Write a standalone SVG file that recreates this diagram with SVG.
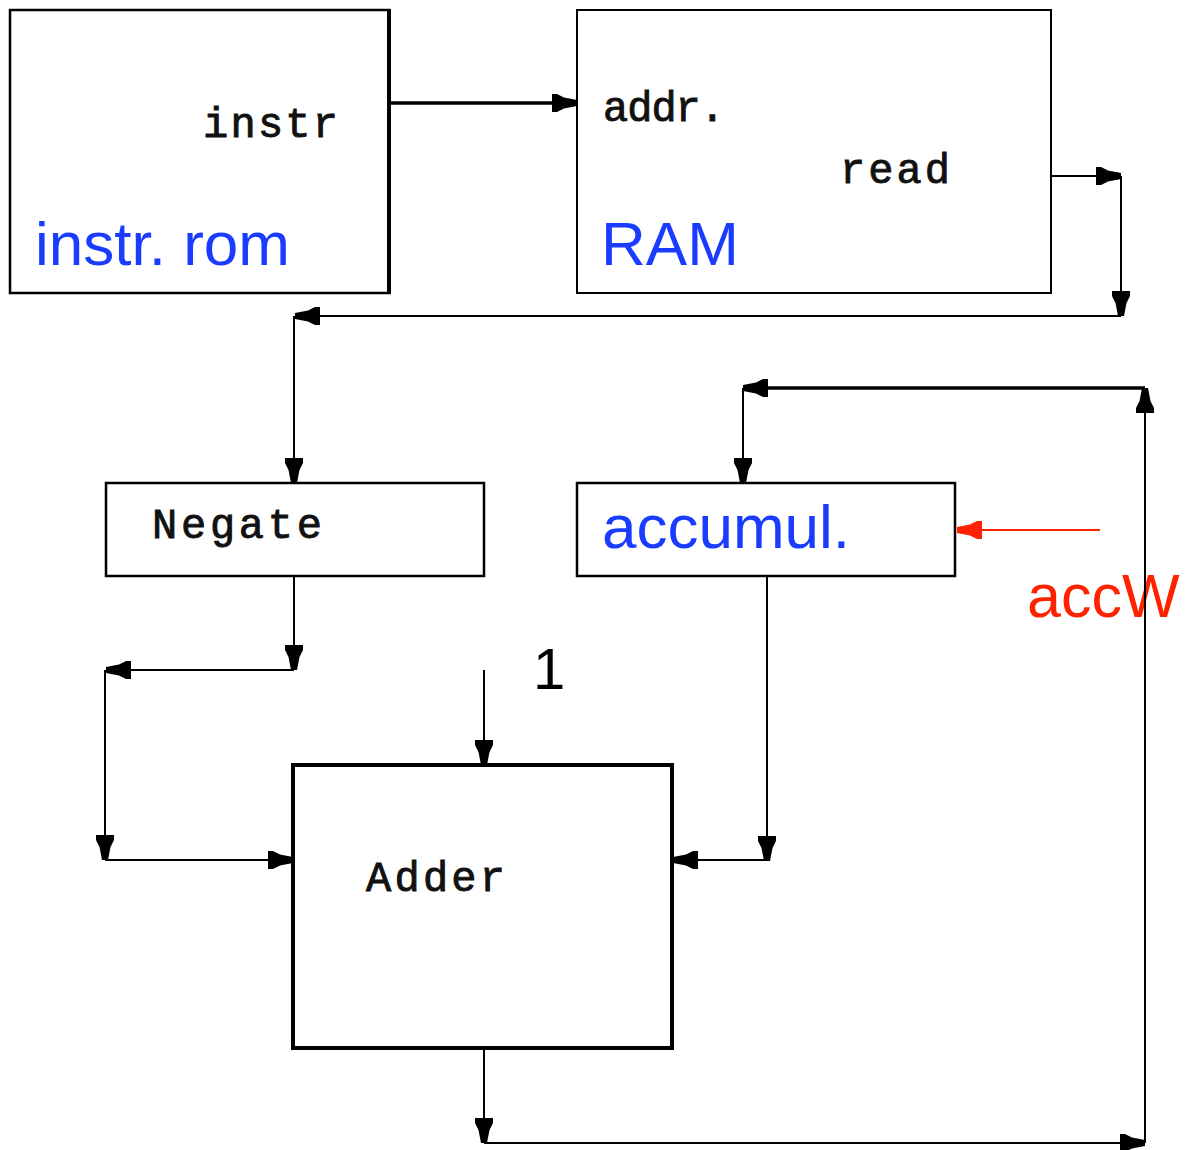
<svg xmlns="http://www.w3.org/2000/svg" width="1192" height="1150" viewBox="0 0 1192 1150">
<style>
.box{fill:#fff;stroke:#000;stroke-width:2.5}
.mono{font-family:"Liberation Mono","Courier New",monospace;font-weight:normal;font-size:42px;fill:#111;stroke:#111;stroke-width:0.9}
.sans{font-family:"Liberation Sans",Arial,sans-serif;font-size:61px}
.blue{fill:#1a3cff}
.w{stroke:#000;stroke-width:2;fill:none;marker-end:url(#ah)}
</style>
<defs>
<marker id="ah" markerUnits="userSpaceOnUse" markerWidth="32" markerHeight="22" viewBox="-28 -11 30 22" refX="0" refY="0" orient="auto">
<path d="M-25,-9 L-20,-9 L-13,-5.5 L0,-3 L0,3 L-13,5.5 L-20,9 L-25,9 Z" fill="#000"/>
</marker>
<marker id="ahr" markerUnits="userSpaceOnUse" markerWidth="32" markerHeight="22" viewBox="-28 -11 30 22" refX="0" refY="0" orient="auto">
<path d="M-25,-9 L-20,-9 L-13,-5.5 L0,-3 L0,3 L-13,5.5 L-20,9 L-25,9 Z" fill="#ff2200"/>
</marker>
</defs>
<g id="instr-rom">
<rect class="box" x="10" y="10" width="379" height="283"/>
<line x1="389" y1="9" x2="389" y2="294" stroke="#000" stroke-width="4"/>
<text class="mono" x="203" y="137" textLength="135">instr</text>
<text class="sans blue" x="35" y="265" style="font-size:62px">instr. rom</text>
</g>
<g id="ram">
<rect class="box" x="577" y="10" width="474" height="283" style="stroke-width:2"/>
<text class="mono" x="603" y="121" textLength="122">addr.</text>
<text class="mono" x="840" y="183" textLength="110">read</text>
<text class="sans blue" x="601" y="265" style="font-size:62px">RAM</text>
</g>
<g id="negate">
<rect class="box" x="106" y="483" width="378" height="93"/>
<text class="mono" x="152" y="538" textLength="170">Negate</text>
</g>
<g id="accumul">
<rect class="box" x="577" y="483" width="378" height="93"/>
<text class="sans blue" x="602" y="548" style="font-size:62px">accumul.</text>
</g>
<g id="adder">
<rect class="box" x="293" y="765" width="379" height="283" style="stroke-width:4"/>
<text class="mono" x="366" y="891" textLength="139">Adder</text>
</g>
<g id="labels">
<text class="sans" x="533" y="689" style="font-size:58px" fill="#000">1</text>
<text class="sans" x="1027" y="617" fill="#ff2200">accW</text>
</g>
<g id="connectors">
<line class="w" x1="389" y1="103" x2="577" y2="103" style="stroke-width:3.5"/>
<line class="w" x1="1051" y1="176" x2="1121" y2="176"/>
<line class="w" x1="1121" y1="176" x2="1121" y2="316"/>
<line class="w" x1="1121" y1="316" x2="295" y2="316"/>
<line class="w" x1="294" y1="316" x2="294" y2="483"/>
<line class="w" x1="294" y1="576" x2="294" y2="670"/>
<line class="w" x1="294" y1="670" x2="106" y2="670"/>
<line class="w" x1="105" y1="670" x2="105" y2="860"/>
<line class="w" x1="105" y1="860" x2="293" y2="860"/>
<line class="w" x1="484" y1="670" x2="484" y2="765"/>
<line class="w" x1="767" y1="576" x2="767" y2="861"/>
<line class="w" x1="767" y1="860" x2="673" y2="860"/>
<line class="w" x1="484" y1="1048" x2="484" y2="1143"/>
<line class="w" x1="484" y1="1143" x2="1145" y2="1143"/>
<line class="w" x1="1145" y1="1143" x2="1145" y2="388"/>
<line class="w" x1="1145" y1="388" x2="743" y2="388" style="stroke-width:3.5"/>
<line class="w" x1="743" y1="388" x2="743" y2="483"/>
<line x1="1100" y1="530" x2="957" y2="530" stroke="#ff2200" stroke-width="2" marker-end="url(#ahr)"/>
</g>
</svg>
